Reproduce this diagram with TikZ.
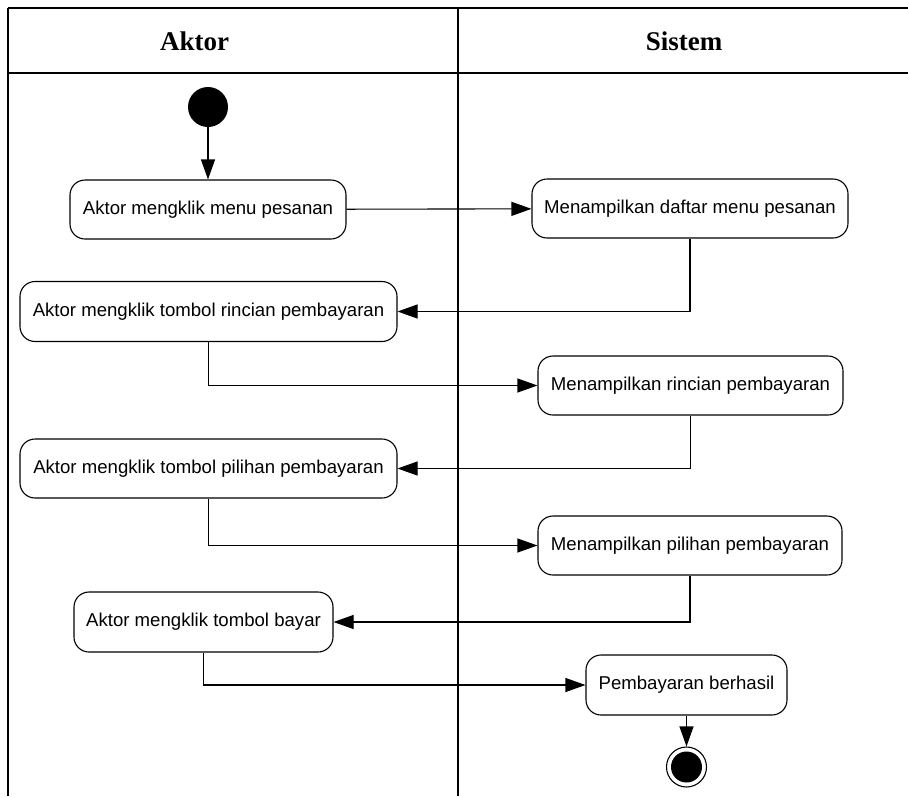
\documentclass[tikz,border=0pt]{standalone}
\usepackage{fontspec}
\setmainfont{Liberation Sans}
\newfontfamily\headfont{Liberation Serif}
\usetikzlibrary{arrows.meta}
\begin{document}
\begin{tikzpicture}[x=1pt,y=-1pt,
  lane/.style={line width=1.3pt},
  act/.style={draw, line width=1.1pt, rounded corners=15pt, inner sep=0pt,
    font=\fontsize{18.6}{22}\selectfont},
  head/.style={font=\headfont\bfseries\fontsize{27}{31}\selectfont},
  flow/.style={line width=1.1pt, -{Triangle[length=20pt,width=14pt]}},
  startnode/.style={circle, fill=black, minimum size=40pt, inner sep=0pt},
  endnode/.style={circle, draw, line width=1.1pt, minimum size=40pt, inner sep=0pt,
    path picture={\fill[black] (path picture bounding box.center) circle (15.5pt);}}]
\useasboundingbox (0,0) rectangle (908,796);

% swimlane frame
\draw[lane] (8,8) -- (908,8);
\draw[lane] (8,73) -- (908,73);
\draw[lane] (8,8) -- (8,796);
\draw[lane] (458,8) -- (458,796);
\node[head] (hAktor) at (194.5,41) {Aktor};
\node[head] (hSistem) at (684,41) {Sistem};

% activities
\node[startnode] (start) at (208,107) {};
\node[act, minimum width=276pt, minimum height=59pt] (a1) at (208,209.5) {Aktor mengklik menu pesanan};
\node[act, minimum width=316pt, minimum height=59pt] (s1) at (690,208.5) {Menampilkan daftar menu pesanan};
\node[act, minimum width=377pt, minimum height=60pt] (a2) at (208.5,311.5) {Aktor mengklik tombol rincian pembayaran};
\node[act, minimum width=305pt, minimum height=59pt] (s2) at (690.5,385.5) {Menampilkan rincian pembayaran};
\node[act, minimum width=377pt, minimum height=59pt] (a3) at (208.5,468.5) {Aktor mengklik tombol pilihan pembayaran};
\node[act, minimum width=304pt, minimum height=59pt] (s3) at (690,545.5) {Menampilkan pilihan pembayaran};
\node[act, minimum width=259pt, minimum height=60pt] (a4) at (203.5,622) {Aktor mengklik tombol bayar};
\node[act, minimum width=201pt, minimum height=60pt] (s4) at (686.5,685) {Pembayaran berhasil};
\node[endnode] (finish) at (686.5,767) {};

% control flow
\draw[flow] (start) -- (a1);
\draw[flow] (a1) -- (s1);
\draw[flow] (s1.south) |- (a2.east);
\draw[flow] (a2.south) |- (s2.west);
\draw[flow] (s2.south) |- (a3.east);
\draw[flow] (a3.south) |- (s3.west);
\draw[flow] (s3.south) |- (a4.east);
\draw[flow] (a4.south) |- (s4.west);
\draw[flow] (s4) -- (finish);
\end{tikzpicture}
\end{document}
